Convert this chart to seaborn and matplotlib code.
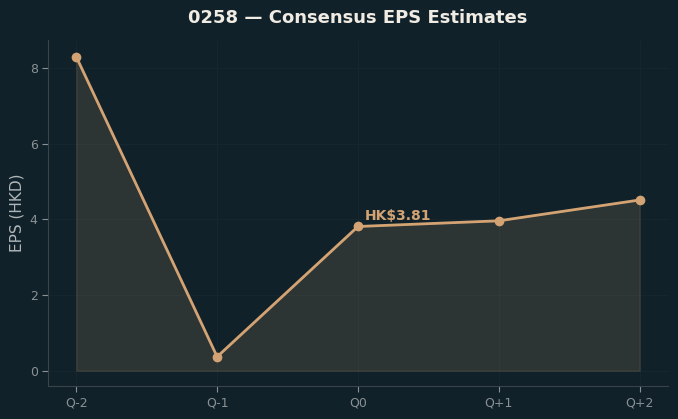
import numpy as np
import pandas as pd
import matplotlib
matplotlib.use("Agg")
import matplotlib.pyplot as plt
import seaborn as sns

quarters = ['Q-2', 'Q-1', 'Q0', 'Q+1', 'Q+2']
eps = [8.29, 0.37, 3.81, 3.96, 4.51]
current_label = 'HK$3.81'

bg = '#10212a'
accent = '#d4a373'

sns.set_style('dark')
plt.rcParams['font.family'] = ['DejaVu Sans']

df = pd.DataFrame({'quarter': quarters, 'eps': eps})
df['x'] = np.arange(len(df))

fig, ax = plt.subplots(figsize=(6.78, 4.19), dpi=100)
fig.patch.set_facecolor(bg)
ax.set_facecolor(bg)

ax.fill_between(df['x'], 0, df['eps'], color=accent, alpha=0.15, linewidth=1)
sns.lineplot(data=df, x='x', y='eps', ax=ax, color=accent, linewidth=2,
             marker='o', markersize=7, markeredgewidth=0)

i0 = quarters.index('Q0')
ax.annotate(current_label, (df['x'][i0], eps[i0]), xytext=(5, 5),
            textcoords='offset points', color=accent, fontsize=10,
            fontweight='bold')

ax.set_xticks(df['x'])
ax.set_xticklabels(quarters)
ax.set_xlim(-0.2, 4.2)
ax.set_ylim(-0.4, 8.74)
ax.set_xlabel('')
ax.set_ylabel('EPS (HKD)', color='#b0b6b8', fontsize=11)
ax.set_title('0258 — Consensus EPS Estimates', color='#f0ece4',
             fontsize=13, fontweight='bold', pad=12)

ax.grid(True, color='#17282f', linewidth=0.6)
ax.tick_params(colors='#8a9194', labelsize=9, length=4, left=True, bottom=True)
for side in ['top', 'right']:
    ax.spines[side].set_visible(False)
for side in ['left', 'bottom']:
    ax.spines[side].set_visible(True)
    ax.spines[side].set_color('#3a4448')

fig.subplots_adjust(left=0.071, right=0.985, top=0.905, bottom=0.079)
fig.savefig('out.png', dpi=100, facecolor=bg)
